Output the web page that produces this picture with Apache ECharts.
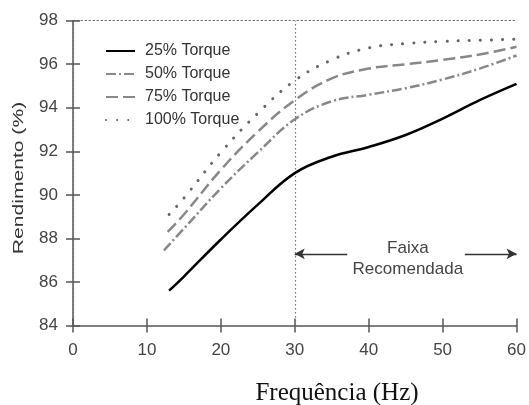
<!doctype html>
<html lang="pt">
    <head>
        <meta charset="UTF-8" />
        <title>Rendimento x Frequência</title>
        <script src="https://cdn.jsdelivr.net/npm/echarts@6.0.0/dist/echarts.min.js"></script>
        <style>
            html, body { margin: 0; padding: 0; background: #fff; }
        </style>
    </head>
    <body>
        <!-- Chart container -->
        <div id="main" style="width: 529px; height: 405px"></div>

        <script>
            // Curves: [frequency (Hz), efficiency (%)]
            const torque25 = [[13, 85.6], [15, 86.25], [20, 87.95], [25, 89.55], [30, 91.0], [35, 91.75], [40, 92.2], [45, 92.75], [50, 93.5], [55, 94.35], [60, 95.1]];
            const torque50 = [[12.3, 87.45], [15, 88.45], [20, 90.3], [25, 91.95], [30, 93.47], [35, 94.3], [40, 94.6], [45, 94.9], [50, 95.3], [55, 95.8], [60, 96.4]];
            const torque75 = [[12.8, 88.3], [15, 89.1], [20, 91.15], [25, 92.9], [30, 94.35], [35, 95.35], [40, 95.8], [45, 96.0], [50, 96.2], [55, 96.45], [60, 96.8]];
            const torque100 = [[13, 89.1], [15, 89.85], [20, 91.95], [25, 93.75], [30, 95.25], [35, 96.2], [40, 96.75], [45, 96.95], [50, 97.05], [55, 97.1], [60, 97.15]];

            const seriesNames = ["25% Torque", "50% Torque", "75% Torque", "100% Torque"];

            // Axes
            const xMin = 0, xMax = 60, xStep = 10;
            const yMin = 84, yMax = 98, yStep = 2;

            // Recommended band (Hz) and where its arrows sit
            const bandStart = 30, bandEnd = 60;
            const arrowLevel = 87.29;
            const arrowInnerLeft = 37.1, arrowInnerRight = 53.0;
            const bandLabel = ["Faixa", "Recomendada"];
            const bandLabelAt = [45.3, 87.07];

            const axisColor = "#555";
            const dotted = { color: "#777", width: 1.2, type: [1.5, 2.5] };
            const sans = "Liberation Sans, Arial, sans-serif";

            const myChart = echarts.init(document.getElementById("main"));

            const baseX = { type: "value", min: xMin, max: xMax, interval: xStep, splitLine: { show: false } };
            const baseY = { type: "value", min: yMin, max: yMax, interval: yStep, splitLine: { show: false } };

            const options = {
                animation: false,
                grid: { left: 73, right: 8, top: 20.7, bottom: 79.5 },
                legend: {
                    left: 100,
                    top: 38,
                    orient: "vertical",
                    itemWidth: 29,
                    itemHeight: 14,
                    itemGap: 7,
                    data: seriesNames,
                    itemStyle: { color: "transparent", borderWidth: 0, opacity: 0 },
                    textStyle: { fontFamily: sans, fontSize: 16, color: "#333", padding: [0, 0, 0, 5] },
                },
                xAxis: [
                    Object.assign({}, baseX, {
                        position: "bottom",
                        axisLine: { lineStyle: { color: axisColor, width: 1.5 } },
                        axisTick: { length: 7, lineStyle: { color: axisColor, width: 1.5 } },
                        axisLabel: { margin: 16, fontFamily: sans, fontSize: 17, color: "#444" },
                    }),
                    Object.assign({}, baseX, {
                        position: "bottom",
                        axisLine: { show: false },
                        axisTick: { inside: true, length: 7, lineStyle: { color: axisColor, width: 1.5 } },
                        axisLabel: { show: false },
                    }),
                    Object.assign({}, baseX, {
                        position: "top",
                        axisLine: { lineStyle: dotted },
                        axisTick: { show: false },
                        axisLabel: { show: false },
                    }),
                ],
                yAxis: [
                    Object.assign({}, baseY, {
                        position: "left",
                        axisLine: { show: true, lineStyle: { color: axisColor, width: 1.5 } },
                        axisTick: { show: true, length: 7, lineStyle: { color: axisColor, width: 1.5 } },
                        axisLabel: { margin: 15, fontFamily: sans, fontSize: 17, color: "#444" },
                    }),
                    Object.assign({}, baseY, {
                        position: "left",
                        axisLine: { show: false },
                        axisTick: { show: true, inside: true, length: 7, lineStyle: { color: axisColor, width: 1.5 } },
                        axisLabel: { show: false },
                    }),
                    Object.assign({}, baseY, {
                        position: "right",
                        axisLine: { show: true, lineStyle: dotted },
                        axisTick: { show: false },
                        axisLabel: { show: false },
                    }),
                ],
                graphic: [
                    {
                        type: "text",
                        x: 19,
                        y: 178,
                        rotation: Math.PI / 2,
                        scaleX: 1.36,
                        style: {
                            text: "Rendimento (%)",
                            font: "15.5px " + sans,
                            fill: "#333",
                            textAlign: "center",
                            textVerticalAlign: "middle",
                        },
                    },
                    {
                        type: "text",
                        x: 337,
                        y: 393,
                        style: {
                            text: "Frequência (Hz)",
                            font: "25px Liberation Serif, Times New Roman, serif",
                            fill: "#111",
                            textAlign: "center",
                            textVerticalAlign: "middle",
                        },
                    },
                ],
                series: [
                    {
                        name: seriesNames[0],
                        type: "line",
                        smooth: 0.4,
                        symbol: "none",
                        data: torque25,
                        color: "#000",
                        lineStyle: { color: "#000", width: 2.5 },
                        z: 5,
                        markLine: {
                            silent: true,
                            animation: false,
                            symbol: ["none", "none"],
                            label: { show: false },
                            lineStyle: dotted,
                            data: [
                                { xAxis: bandStart },
                                [
                                    { coord: [arrowInnerLeft, arrowLevel], symbol: "none", lineStyle: { color: "#333", width: 1.3, type: "solid" } },
                                    { coord: [bandStart, arrowLevel], symbol: "arrow", symbolSize: [8, 10] },
                                ],
                                [
                                    { coord: [arrowInnerRight, arrowLevel], symbol: "none", lineStyle: { color: "#333", width: 1.3, type: "solid" } },
                                    { coord: [bandEnd, arrowLevel], symbol: "arrow", symbolSize: [8, 10] },
                                ],
                            ],
                        },
                        markPoint: {
                            silent: true,
                            symbol: "circle",
                            symbolSize: 0,
                            data: [{ coord: bandLabelAt }],
                            label: {
                                show: true,
                                position: "inside",
                                formatter: bandLabel.join("\n"),
                                fontFamily: sans,
                                fontSize: 17,
                                lineHeight: 21,
                                color: "#444",
                            },
                        },
                    },
                    {
                        name: seriesNames[1],
                        type: "line",
                        smooth: 0.4,
                        symbol: "none",
                        data: torque50,
                        color: "#888",
                        lineStyle: { color: "#888", width: 2.5, type: [10, 3, 2, 3] },
                    },
                    {
                        name: seriesNames[2],
                        type: "line",
                        smooth: 0.4,
                        symbol: "none",
                        data: torque75,
                        color: "#888",
                        lineStyle: { color: "#888", width: 2.5, type: [12, 5] },
                    },
                    {
                        name: seriesNames[3],
                        type: "line",
                        smooth: 0.4,
                        symbol: "none",
                        data: torque100,
                        color: "#666",
                        lineStyle: { color: "#666", width: 3, type: [0.1, 11], cap: "round" },
                    },
                ],
            };

            myChart.setOption(options);
        </script>
    </body>
</html>
